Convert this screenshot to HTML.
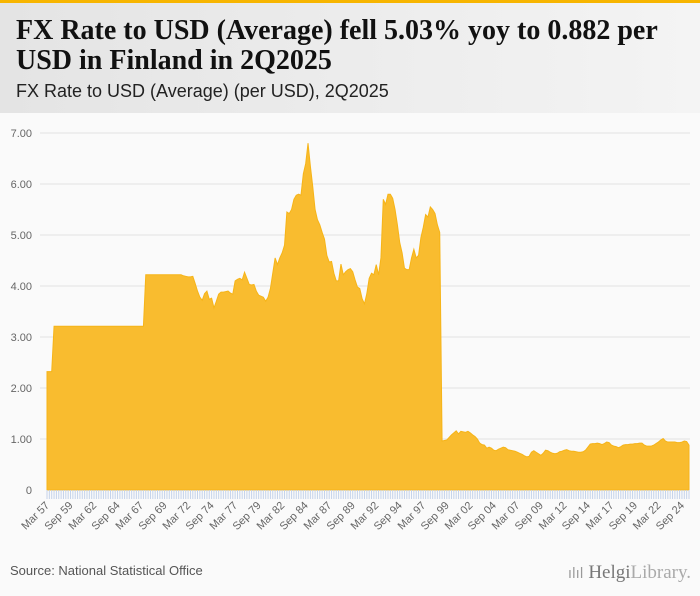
<!DOCTYPE html>
<html style="width:700px;height:596px;overflow:hidden"><head><meta charset="utf-8"><style>
body{margin:0;width:700px;height:596px;background:#fafafa;overflow:hidden;position:relative;font-family:"Liberation Sans",sans-serif}
#top{position:absolute;left:0;top:0;width:700px;height:3px;background:#f7b500}
#hdr{position:absolute;left:0;top:3px;width:700px;height:110px;background:linear-gradient(90deg,#e4e4e4,#f4f4f4)}
#title{position:absolute;left:16px;top:13px;font-family:"Liberation Serif",serif;font-weight:bold;font-size:28px;line-height:30px;color:#111;margin:0;white-space:nowrap}
#sub{position:absolute;left:16px;top:78px;font-size:18px;color:#222}
#src{position:absolute;left:10px;top:563px;font-size:13px;color:#555}
#logo{position:absolute;left:568px;top:560px;height:26px;line-height:26px;font-family:"Liberation Serif",serif;font-size:19px;color:#888;white-space:nowrap;overflow:hidden}
</style></head><body>
<div id="top"></div>
<div id="hdr">
<h1 id="title">FX Rate to USD (Average) fell 5.03% yoy to 0.882 per<br>USD in Finland in 2Q2025</h1>
<div id="sub">FX Rate to USD (Average) (per USD), 2Q2025</div>
</div>
<svg id="chart" width="700" height="596" style="position:absolute;left:0;top:0"></svg>
<div id="src">Source: National Statistical Office</div>
<div id="logo"><span style="font-family:'DejaVu Sans';font-size:14px;color:#999">ılıl</span> <span style="color:#777">Helgi</span><span style="color:#aaa">Library.</span></div>
<script>
const values=[2.32,2.32,2.32,
3.21,3.21,3.21,3.21,3.21,3.21,3.21,3.21,3.21,3.21,3.21,3.21,3.21,3.21,3.21,3.21,3.21,3.21,3.21,3.21,3.21,3.21,3.21,3.21,3.21,3.21,3.21,3.21,3.21,3.21,3.21,3.21,3.21,3.21,3.21,3.21,3.21,3.21,3.21,
4.22,4.22,4.22,4.22,4.22,4.22,4.22,4.22,4.22,4.22,4.22,4.22,4.22,4.22,4.22,4.22,
4.20,4.19,4.18,4.18,4.19,4.05,3.90,3.78,3.72,3.85,3.90,3.74,3.76,3.57,3.70,3.84,3.88,3.88,3.89,3.90,3.86,3.84,
4.10,4.13,4.15,4.12,4.27,4.15,4.03,4.02,4.03,3.90,3.82,3.80,3.78,3.70,3.78,3.95,4.25,4.55,4.42,4.55,
4.65,4.80,5.45,5.42,5.50,5.70,5.78,5.80,5.78,6.20,6.40,6.80,6.35,5.95,5.50,5.30,5.20,5.05,4.92,4.60,
4.47,4.48,4.25,4.10,4.10,4.43,4.22,4.28,4.32,4.34,4.28,4.12,3.98,3.95,3.75,3.65,3.85,4.15,4.25,4.22,
4.42,4.22,4.55,5.70,5.60,5.80,5.80,5.72,5.50,5.20,4.85,4.65,4.35,4.32,4.32,4.55,4.72,4.55,4.60,4.95,
5.15,5.40,5.35,5.55,5.50,5.42,5.20,5.05,
0.96,0.97,0.98,1.03,1.08,1.12,1.16,1.10,1.15,1.14,1.13,1.15,1.12,1.08,1.05,1.00,0.92,0.89,0.88,0.82,
0.84,0.82,0.78,0.77,0.80,0.82,0.84,0.83,0.79,0.78,0.77,0.76,0.74,0.72,0.70,0.67,0.65,0.66,0.74,0.77,
0.74,0.71,0.68,0.72,0.78,0.77,0.74,0.72,0.71,0.72,0.75,0.76,0.78,0.79,0.77,0.76,0.76,0.75,0.74,0.74,
0.75,0.78,0.84,0.90,0.91,0.91,0.92,0.91,0.89,0.91,0.94,0.93,0.88,0.86,0.85,0.83,0.85,0.88,0.89,0.89,
0.90,0.90,0.91,0.91,0.92,0.92,0.88,0.86,0.86,0.86,0.88,0.91,0.94,0.98,1.01,0.96,0.94,0.94,0.94,0.94,
0.93,0.93,0.94,0.96,0.95,0.88];
const startYear=1957;
const yTicks=[0,1,2,3,4,5,6,7];
const yTickLabels=["0","1.00","2.00","3.00","4.00","5.00","6.00","7.00"];
const labelEvery=10;

const NS="http://www.w3.org/2000/svg";
const svg=document.getElementById('chart');
const X0=47,X1=689,Y0=490,Y7=133;
const n=values.length;
function xs(i){return X0+(X1-X0)*i/(n-1);}
function ys(v){return Y0-(Y0-Y7)*v/7;}
function mk(t,a){const e=document.createElementNS(NS,t);for(const k in a)e.setAttribute(k,a[k]);svg.appendChild(e);return e;}
yTicks.forEach((t,k)=>{
  if(t>0){const g=mk('line',{x1:40,x2:690,y1:ys(t),y2:ys(t),stroke:'#e2e2e2','stroke-width':1});
  
  }
  const l=mk('text',{x:32,y:ys(t)+4,'text-anchor':'end','font-size':11,fill:'#666','font-family':'Liberation Sans, sans-serif'});
  l.textContent=yTickLabels[k];
  
  
});
let d='M'+xs(0)+','+Y0;
values.forEach((v,i)=>{d+=' L'+xs(i).toFixed(2)+','+ys(v).toFixed(2);});
d+=' L'+xs(n-1)+','+Y0+' Z';
const area=mk('path',{d:d,fill:'#f9bc2f',stroke:'#f6b418','stroke-width':1});


for(let i=0;i<n;i++){
  const t=mk('line',{x1:xs(i),x2:xs(i),y1:Y0,y2:Y0+9,stroke:'#c5d3ea','stroke-width':1});
  
  
  if(i%labelEvery===0){
    const q=i%4,yr=(startYear+Math.floor(i/4))%100;
    const txt=(q===0?'Mar ':q===1?'Jun ':q===2?'Sep ':'Dec ')+String(yr).padStart(2,'0');
    const lb=mk('text',{x:xs(i)+3,y:Y0+16,'text-anchor':'end','font-size':11,fill:'#666','font-family':'Liberation Sans, sans-serif',transform:'rotate(-45 '+(xs(i)+3)+' '+(Y0+16)+')'});
    lb.textContent=txt;
    
    
  }
}
</script>
</body></html>
